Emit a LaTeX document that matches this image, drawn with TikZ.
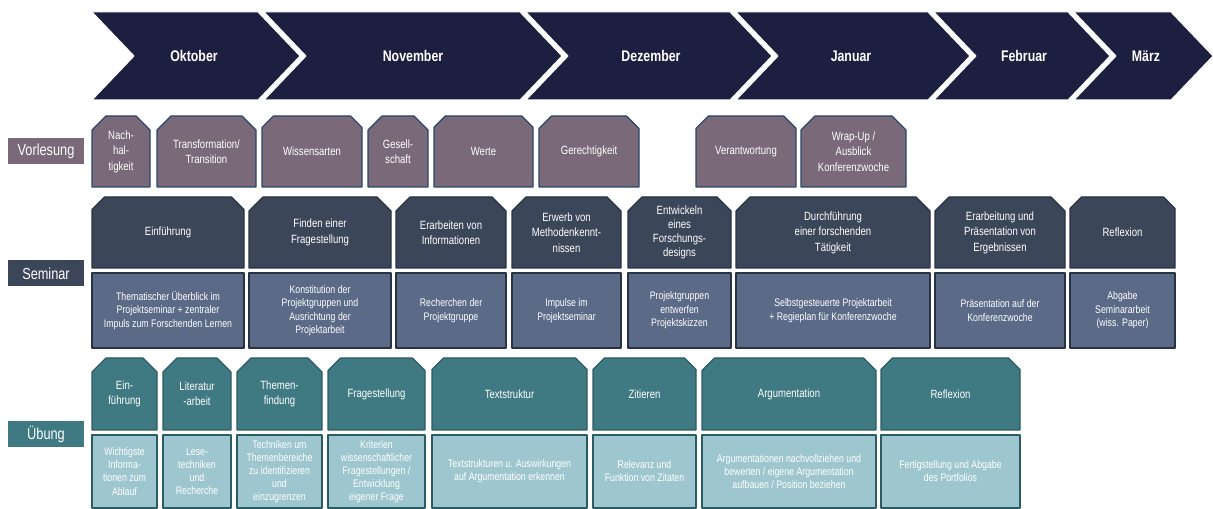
\documentclass[tikz,border=0pt]{standalone}
\usepackage{fontspec}
\setmainfont[FakeStretch=0.8]{Liberation Sans}
\usepackage{tikz}
\usetikzlibrary{shapes,backgrounds,positioning,calc}

\begin{document}
\begin{tikzpicture}[line join=bevel,
  month/.style={fill=navy,draw=white,line width=1bp},
  monthlabel/.style={text=white,font=\fontsize{15.5}{18}\selectfont\bfseries},
  rowlabel/.style={rectangle,inner sep=0pt,minimum width=76bp,minimum height=26bp,text=white,font=\fontsize{16}{19}\selectfont},
  topbox/.style={chamfered rectangle,chamfered rectangle corners={north west,north east},%
    chamfered rectangle xsep=7bp,chamfered rectangle ysep=7bp,inner sep=0pt,align=center,text=white,line width=1.2bp},
  lowbox/.style={rectangle,inner sep=0pt,align=center,text=white,line width=1.2bp,font=\fontsize{11}{13.5}\selectfont},
  vbox/.style={topbox,fill=mauve,draw=mauveline,minimum height=71bp,font=\fontsize{12}{15.5}\selectfont},
  stop/.style={topbox,fill=slatedark,draw=slateline,minimum height=71bp,font=\fontsize{12}{15.5}\selectfont},
  slow/.style={lowbox,fill=slatelight,draw=slateline,minimum height=75bp},
  utop/.style={topbox,fill=tealdark,draw=tealline,minimum height=72bp,font=\fontsize{12}{15.5}\selectfont},
  ulow/.style={lowbox,fill=teallight,draw=tealline,minimum height=73bp,font=\fontsize{11}{13.2}\selectfont},
]
\definecolor{navy}{RGB}{29,31,64}
\definecolor{mauve}{RGB}{122,105,121}
\definecolor{mauveline}{RGB}{40,70,105}
\definecolor{slatedark}{RGB}{59,70,89}
\definecolor{slatelight}{RGB}{91,106,134}
\definecolor{slateline}{RGB}{40,50,66}
\definecolor{tealdark}{RGB}{63,121,130}
\definecolor{teallight}{RGB}{158,198,206}
\definecolor{tealline}{RGB}{44,92,99}
\useasboundingbox (0bp,0bp) rectangle (1213bp,509bp);
%% months
\draw [month] (92bp,497bp) -- (258bp,497bp) -- (300bp,453bp) -- (258bp,409bp) -- (92bp,409bp) -- (134bp,453bp) -- cycle;
\draw [month] (264bp,497bp) -- (520bp,497bp) -- (562bp,453bp) -- (520bp,409bp) -- (264bp,409bp) -- (306bp,453bp) -- cycle;
\draw [month] (526bp,497bp) -- (730bp,497bp) -- (772bp,453bp) -- (730bp,409bp) -- (526bp,409bp) -- (568bp,453bp) -- cycle;
\draw [month] (736bp,497bp) -- (928bp,497bp) -- (970bp,453bp) -- (928bp,409bp) -- (736bp,409bp) -- (778bp,453bp) -- cycle;
\draw [month] (934bp,497bp) -- (1068bp,497bp) -- (1110bp,453bp) -- (1068bp,409bp) -- (934bp,409bp) -- (976bp,453bp) -- cycle;
\draw [month] (1074bp,497bp) -- (1171bp,497bp) -- (1213bp,453bp) -- (1171bp,409bp) -- (1074bp,409bp) -- (1116bp,453bp) -- cycle;
\node (okt) at (194bp,453bp) [monthlabel] {Oktober};
\node (nov) at (413bp,453bp) [monthlabel] {November};
\node (dez) at (651bp,453bp) [monthlabel] {Dezember};
\node (jan) at (851bp,453bp) [monthlabel] {Januar};
\node (feb) at (1024bp,453bp) [monthlabel] {Februar};
\node (mar) at (1146bp,453bp) [monthlabel] {März};
%% Vorlesung
\node (vl) at (46bp,358bp) [rowlabel,fill=mauve] {Vorlesung};
\node (v1) at (121bp,357.5bp) [vbox,minimum width=58bp] {Nach-\\hal-\\tigkeit};
\node (v2) at (206.5bp,357.5bp) [vbox,minimum width=99bp] {Transformation/\\Transition};
\node (v3) at (312bp,357.5bp) [vbox,minimum width=100bp] {Wissensarten};
\node (v4) at (398bp,357.5bp) [vbox,minimum width=60bp] {Gesell-\\schaft};
\node (v5) at (483.5bp,357.5bp) [vbox,minimum width=99bp] {Werte};
\node (v6) at (589bp,357.5bp) [vbox,minimum width=100bp] {Gerechtigkeit};
\node (v7) at (746bp,357.5bp) [vbox,minimum width=100bp] {Verantwortung};
\node (v8) at (853.5bp,357.5bp) [vbox,minimum width=105bp] {Wrap-Up /\\Ausblick\\Konferenzwoche};
%% Seminar
\node (sl) at (46bp,235.5bp) [rowlabel,fill=slatedark] {Seminar};
\node (s1) at (168bp,276.5bp) [stop,minimum width=152bp] {Einführung};
\node (s2) at (320bp,276.5bp) [stop,minimum width=142bp] {Finden einer\\Fragestellung};
\node (s3) at (451bp,276.5bp) [stop,minimum width=110bp] {Erarbeiten von\\Informationen};
\node (s4) at (566.5bp,276.5bp) [stop,minimum width=109bp] {Erwerb von\\Methodenkennt-\\nissen};
\node (s5) at (679.5bp,276.5bp) [stop,minimum width=103bp,font=\fontsize{12}{13.8}\selectfont] {Entwickeln\\eines\\Forschungs-\\designs};
\node (s6) at (833bp,276.5bp) [stop,minimum width=194bp] {Durchführung\\einer forschenden\\Tätigkeit};
\node (s7) at (1000bp,276.5bp) [stop,minimum width=130bp] {Erarbeitung und\\Präsentation von\\Ergebnissen};
\node (s8) at (1122.5bp,276.5bp) [stop,minimum width=105bp] {Reflexion};
\node (s1b) at (168bp,198.5bp) [slow,minimum width=152bp] {Thematischer Überblick im\\Projektseminar + zentraler\\Impuls zum Forschenden Lernen};
\node (s2b) at (320bp,198.5bp) [slow,minimum width=142bp] {Konstitution der\\Projektgruppen und\\Ausrichtung der\\Projektarbeit};
\node (s3b) at (451bp,198.5bp) [slow,minimum width=110bp] {Recherchen der\\Projektgruppe};
\node (s4b) at (566.5bp,198.5bp) [slow,minimum width=109bp] {Impulse im\\Projektseminar};
\node (s5b) at (679.5bp,198.5bp) [slow,minimum width=103bp] {Projektgruppen\\entwerfen\\Projektskizzen};
\node (s6b) at (833bp,198.5bp) [slow,minimum width=194bp] {Selbstgesteuerte Projektarbeit\\+ Regieplan für Konferenzwoche};
\node (s7b) at (1000bp,198.5bp) [slow,minimum width=130bp] {Präsentation auf der\\Konferenzwoche};
\node (s8b) at (1122.5bp,198.5bp) [slow,minimum width=105bp] {Abgabe\\Seminararbeit\\(wiss. Paper)};
%% Übung
\node (ul) at (46bp,74.5bp) [rowlabel,fill=tealdark] {Übung};
\node (u1) at (124.5bp,115bp) [utop,minimum width=65bp] {Ein-\\führung};
\node (u2) at (197bp,115bp) [utop,minimum width=68bp] {Literatur\\-arbeit};
\node (u3) at (279.5bp,115bp) [utop,minimum width=85bp] {Themen-\\findung};
\node (u4) at (376.5bp,115bp) [utop,minimum width=97bp] {Fragestellung};
\node (u5) at (509.5bp,115bp) [utop,minimum width=155bp] {Textstruktur};
\node (u6) at (644.5bp,115bp) [utop,minimum width=103bp] {Zitieren};
\node (u7) at (789bp,115bp) [utop,minimum width=174bp] {Argumentation};
\node (u8) at (950.5bp,115bp) [utop,minimum width=139bp] {Reflexion};
\node (u1b) at (124.5bp,37.5bp) [ulow,minimum width=65bp] {Wichtigste\\Informa-\\tionen zum\\Ablauf};
\node (u2b) at (197bp,37.5bp) [ulow,minimum width=68bp] {Lese-\\techniken\\und\\Recherche};
\node (u3b) at (279.5bp,37.5bp) [ulow,minimum width=85bp] {Techniken um\\Themenbereiche\\zu identifizieren\\und\\einzugrenzen};
\node (u4b) at (376.5bp,37.5bp) [ulow,minimum width=97bp] {Kriterien\\wissenschaftlicher\\Fragestellungen /\\Entwicklung\\eigener Frage};
\node (u5b) at (509.5bp,37.5bp) [ulow,minimum width=155bp] {Textstrukturen u. Auswirkungen\\auf Argumentation erkennen};
\node (u6b) at (644.5bp,37.5bp) [ulow,minimum width=103bp] {Relevanz und\\Funktion von Zitaten};
\node (u7b) at (789bp,37.5bp) [ulow,minimum width=174bp] {Argumentationen nachvollziehen und\\bewerten / eigene Argumentation\\aufbauen / Position beziehen};
\node (u8b) at (950.5bp,37.5bp) [ulow,minimum width=139bp] {Fertigstellung und Abgabe\\des Portfolios};
%
\end{tikzpicture}
\end{document}
